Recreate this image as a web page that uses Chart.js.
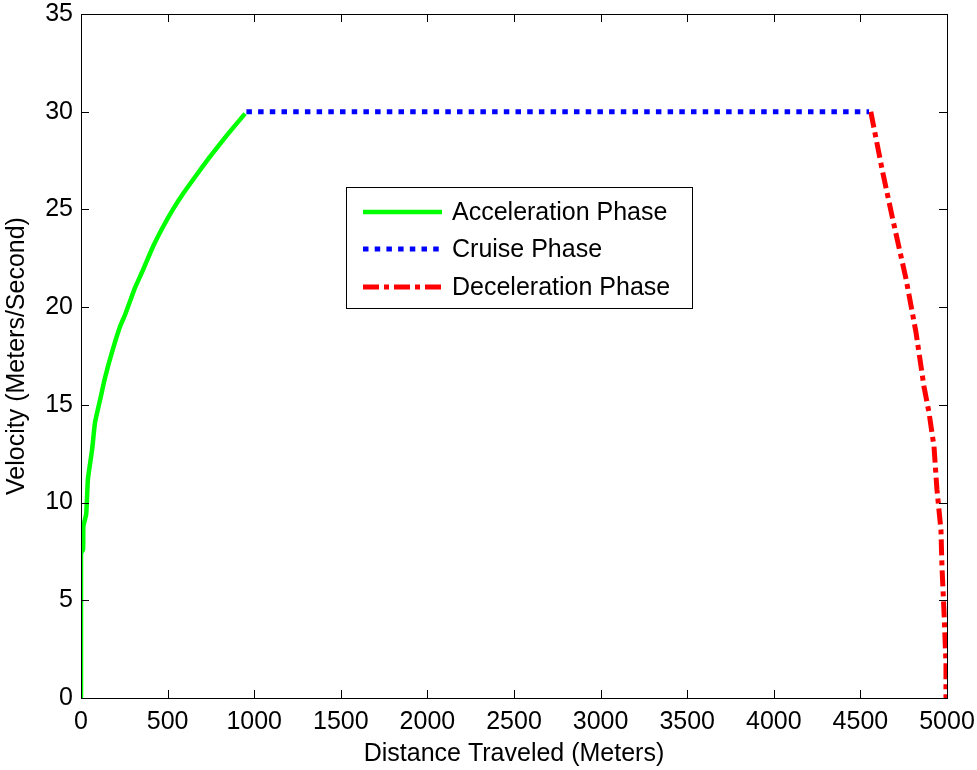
<!DOCTYPE html>
<html lang="en">
<head>
<meta charset="UTF-8">
<title>Velocity Profile</title>
<script src="https://cdn.jsdelivr.net/npm/chart.js"></script>
<style>
  html, body { margin: 0; padding: 0; background: #fff; }
  #wrap { width: 977px; height: 770px; }
</style>
</head>
<body>
<div id="wrap"><canvas id="velocityChart" width="977" height="770"></canvas></div>
<script>
// values: distance in meters, velocity in m/s
const accelDistance = [0, 0, 12, 14, 30, 40, 64, 81, 110, 139, 179, 225, 254, 283, 312, 358, 416, 473, 531, 589, 670, 745, 843, 947];
const accelVelocity = [0, 7.4, 7.6, 8.8, 9.4, 11.2, 12.7, 14.1, 15.25, 16.4, 17.7, 19.0, 19.6, 20.3, 21.0, 21.9, 23.1, 24.1, 25.0, 25.8, 26.8, 27.7, 28.8, 29.9];

const cruiseDistance = [955, 4550];
const cruiseVelocity = [30, 30];

const decelDistance = [4560, 4625, 4683, 4764, 4821, 4867, 4896, 4925, 4942, 4965, 4971, 4983, 4994, 4994];
const decelVelocity = [30, 27.06, 24.65, 21.42, 18.71, 15.94, 14.61, 12.86, 10.66, 8.61, 6.71, 4.36, 1.79, 0];

const xTicks = [0, 500, 1000, 1500, 2000, 2500, 3000, 3500, 4000, 4500, 5000];
const yTicks = [0, 5, 10, 15, 20, 25, 30, 35];

const phaseNames = ['Acceleration Phase', 'Cruise Phase', 'Deceleration Phase'];

const FONT = '"Liberation Sans", Arial, Helvetica, sans-serif';
const FONT_SIZE = 25;

function toPoints(xs, ys) {
    return xs.map((x, i) => ({ x: x, y: ys[i] }));
}

// box round the axes with inward ticks on all four sides
const axesBox = {
    id: 'axesBox',
    afterDatasetsDraw(chart) {
        const { ctx, chartArea: a, scales } = chart;
        const len = 8;
        ctx.save();
        ctx.strokeStyle = '#000';
        ctx.lineWidth = 1;
        ctx.beginPath();
        xTicks.forEach(v => {
            const px = Math.round(scales.x.getPixelForValue(v)) + 0.5;
            ctx.moveTo(px, a.bottom); ctx.lineTo(px, a.bottom - len);
            ctx.moveTo(px, a.top); ctx.lineTo(px, a.top + len);
        });
        yTicks.forEach(v => {
            const py = Math.round(scales.y.getPixelForValue(v)) + 0.5;
            ctx.moveTo(a.left, py); ctx.lineTo(a.left + len, py);
            ctx.moveTo(a.right, py); ctx.lineTo(a.right - len, py);
        });
        ctx.stroke();
        ctx.strokeRect(Math.round(a.left) + 0.5, Math.round(a.top) + 0.5,
                       Math.round(a.right - a.left), Math.round(a.bottom - a.top));
        ctx.restore();
    }
};

// legend drawn inside the plot like the original figure
const phaseLegend = {
    id: 'phaseLegend',
    afterDraw(chart) {
        const ctx = chart.ctx;
        const box = { x: 346, y: 187, w: 346, h: 121 };
        const rowY = [212, 249, 287];
        ctx.save();
        ctx.fillStyle = '#fff';
        ctx.fillRect(box.x, box.y, box.w, box.h);
        ctx.strokeStyle = '#000';
        ctx.lineWidth = 1;
        ctx.strokeRect(box.x + 0.5, box.y + 0.5, box.w, box.h);
        chart.data.datasets.forEach((ds, i) => {
            ctx.save();
            ctx.strokeStyle = ds.borderColor;
            ctx.lineWidth = ds.borderWidth;
            ctx.lineCap = 'butt';
            ctx.setLineDash(ds.borderDash || []);
            ctx.beginPath();
            ctx.moveTo(363, rowY[i]);
            ctx.lineTo(442, rowY[i]);
            ctx.stroke();
            ctx.restore();
            ctx.fillStyle = '#000';
            ctx.font = FONT_SIZE + 'px ' + FONT;
            ctx.textBaseline = 'middle';
            ctx.fillText(phaseNames[i], 452, rowY[i] + 1);
        });
        ctx.restore();
    }
};

const ctx = document.getElementById('velocityChart').getContext('2d');
const velocityChart = new Chart(ctx, {
    type: 'scatter',
    data: {
        datasets: [
            {
                label: phaseNames[0],
                data: toPoints(accelDistance, accelVelocity),
                borderColor: '#00ff00',
                borderWidth: 4.5,
                showLine: true,
                pointRadius: 0,
                tension: 0.15
            },
            {
                label: phaseNames[1],
                data: toPoints(cruiseDistance, cruiseVelocity),
                borderColor: '#0000ff',
                borderWidth: 5,
                borderDash: [5.5, 6.2],
                showLine: true,
                pointRadius: 0
            },
            {
                label: phaseNames[2],
                data: toPoints(decelDistance, decelVelocity),
                borderColor: '#ff0000',
                borderWidth: 5,
                borderDash: [16, 5, 5, 5],
                showLine: true,
                pointRadius: 0
            }
        ]
    },
    options: {
        responsive: false,
        animation: false,
        devicePixelRatio: 1,
        layout: { padding: { top: 14, right: 30, left: 0, bottom: 0 } },
        plugins: {
            legend: { display: false },
            tooltip: { enabled: false }
        },
        scales: {
            x: {
                type: 'linear',
                min: 0,
                max: 5000,
                afterFit(scale) {
                    scale.height = 72;
                    scale.paddingLeft = 0;
                    scale.paddingRight = 0;
                },
                afterBuildTicks(scale) { scale.ticks = xTicks.map(v => ({ value: v })); },
                grid: { display: false, drawTicks: false },
                border: { display: false },
                ticks: {
                    color: '#000', padding: 9, maxRotation: 0, autoSkip: false,
                    font: { family: FONT, size: FONT_SIZE },
                    callback: v => String(v)
                },
                title: {
                    display: true,
                    text: 'Distance Traveled (Meters)',
                    color: '#000',
                    font: { family: FONT, size: FONT_SIZE },
                    padding: { top: 0, bottom: 1 }
                }
            },
            y: {
                type: 'linear',
                min: 0,
                max: 35,
                afterFit(scale) {
                    scale.width = 81;
                    scale.paddingTop = 0;
                    scale.paddingBottom = 0;
                },
                afterBuildTicks(scale) { scale.ticks = yTicks.map(v => ({ value: v })); },
                grid: { display: false, drawTicks: false },
                border: { display: false },
                ticks: {
                    color: '#000', padding: 8, autoSkip: false,
                    font: { family: FONT, size: FONT_SIZE },
                    callback: v => String(v)
                },
                title: {
                    display: true,
                    text: 'Velocity (Meters/Second)',
                    color: '#000',
                    font: { family: FONT, size: FONT_SIZE },
                    padding: { top: 2, bottom: 0 }
                }
            }
        }
    },
    plugins: [axesBox, phaseLegend]
});
</script>
</body>
</html>
